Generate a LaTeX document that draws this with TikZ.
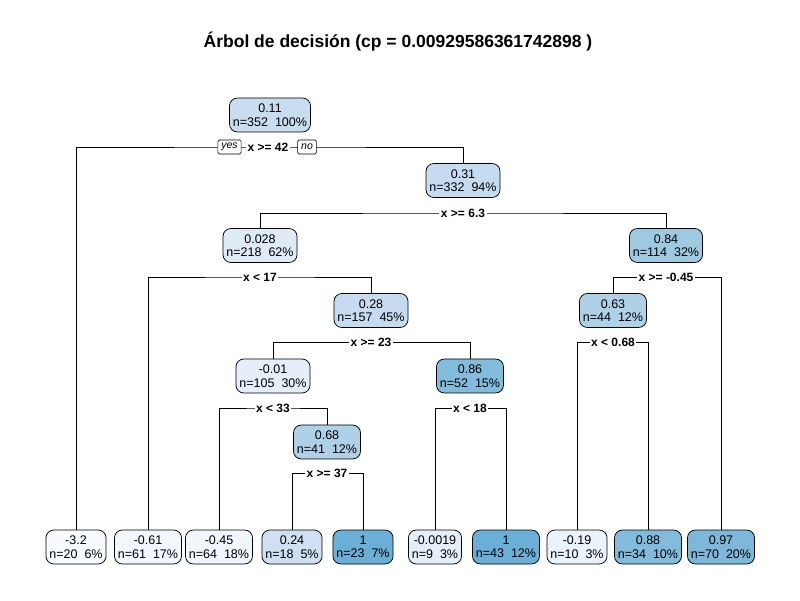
\documentclass[tikz,border=0pt]{standalone}
\usepackage{fontspec}
\setmainfont{Liberation Sans}
\definecolor{cA}{HTML}{F7FBFF}
\definecolor{cB}{HTML}{F1F7FD}
\definecolor{cC}{HTML}{F0F6FC}
\definecolor{cD}{HTML}{EAF3FB}
\definecolor{cE}{HTML}{E6EFF9}
\definecolor{cF}{HTML}{E3EEF8}
\definecolor{cG}{HTML}{DEEBF7}
\definecolor{cH}{HTML}{CEE0F2}
\definecolor{cI}{HTML}{C9DDF0}
\definecolor{cJ}{HTML}{C6DBEF}
\definecolor{cK}{HTML}{AED1E7}
\definecolor{cL}{HTML}{9DCAE1}
\definecolor{cM}{HTML}{82BBDB}
\definecolor{cN}{HTML}{7DB8DA}
\definecolor{cO}{HTML}{6BAED6}
\begin{document}
\begin{tikzpicture}[x=1pt,y=1pt,
  tnode/.style={draw=black, line width=0.75pt, rounded corners=8pt, align=center,
    font=\fontsize{12.5}{13.5}\selectfont, inner xsep=3.5pt, inner ysep=3pt, minimum height=34pt},
  slabel/.style={fill=white, inner xsep=1.5pt, inner ysep=1pt, font=\bfseries\fontsize{12}{14}\selectfont},
  yn/.style={draw=black, fill=white, rounded corners=1.5pt, font=\itshape\fontsize{10.5}{12}\selectfont,
    inner xsep=3.5pt, inner ysep=1pt, minimum height=14pt, line width=0.6pt},
  branch/.style={line width=0.75pt}]
\useasboundingbox[fill=white] (0,0) rectangle (800,600);
\node[font=\bfseries\fontsize{17.5}{20}\selectfont] (title) at (398,558) {Árbol de decisión (cp = 0.00929586361742898 )};
% internal nodes
\node[tnode, fill=cI] (root) at (270,485) {0.11\\n=352~~100\%};
\node[tnode, fill=cJ] (n31) at (463,419.5) {0.31\\n=332~~94\%};
\node[tnode, fill=cG] (n028) at (260,354.5) {0.028\\n=218~~62\%};
\node[tnode, fill=cL] (n84) at (666,354.5) {0.84\\n=114~~32\%};
\node[tnode, fill=cJ] (n28) at (371,289.5) {0.28\\n=157~~45\%};
\node[tnode, fill=cK] (n63) at (613,289.5) {0.63\\n=44~~12\%};
\node[tnode, fill=cE] (n01) at (273,224) {-0.01\\n=105~~30\%};
\node[tnode, fill=cM] (n86) at (470,224) {0.86\\n=52~~15\%};
\node[tnode, fill=cK] (n68) at (327,158) {0.68\\n=41~~12\%};
% leaves
\node[tnode, fill=cA] (l1) at (76,53) {-3.2\\n=20~~6\%};
\node[tnode, fill=cB] (l2) at (148,53) {-0.61\\n=61~~17\%};
\node[tnode, fill=cC] (l3) at (219,53) {-0.45\\n=64~~18\%};
\node[tnode, fill=cH] (l4) at (292,53) {0.24\\n=18~~5\%};
\node[tnode, fill=cO] (l5) at (363,53) {1\\n=23~~7\%};
\node[tnode, fill=cF] (l6) at (435,53) {-0.0019\\n=9~~3\%};
\node[tnode, fill=cO] (l7) at (506,53) {1\\n=43~~12\%};
\node[tnode, fill=cD] (l8) at (577,53) {-0.19\\n=10~~3\%};
\node[tnode, fill=cM] (l9) at (648,53) {0.88\\n=34~~10\%};
\node[tnode, fill=cN] (l10) at (721,53) {0.97\\n=70~~20\%};
% split points
\coordinate (c1) at (270,453);
\coordinate (c2) at (463,387);
\coordinate (c3) at (260,323);
\coordinate (c4) at (371,257.5);
\coordinate (c5) at (666,323);
\coordinate (c6) at (613,258);
\coordinate (c7) at (273,192);
\coordinate (c8) at (470,192);
\coordinate (c9) at (327,127);
% branches
\draw[branch] (l1.north) |- (c1) -| (n31.north);
\draw[branch] (n028.north) |- (c2) -| (n84.north);
\draw[branch] (l2.north) |- (c3) -| (n28.north);
\draw[branch] (n01.north) |- (c4) -| (n86.north);
\draw[branch] (n63.north) |- (c5) -| (l10.north);
\draw[branch] (l8.north) |- (c6) -| (l9.north);
\draw[branch] (l3.north) |- (c7) -| (n68.north);
\draw[branch] (l6.north) |- (c8) -| (l7.north);
\draw[branch] (l4.north) |- (c9) -| (l5.north);
% split labels
\node[slabel] (s1) at (268,453) {x >= 42};
\node[yn] (yes) at (229.5,453) {yes};
\node[yn] (no) at (307,453) {no};
\node[slabel] (s2) at (c2) {x >= 6.3};
\node[slabel] (s3) at (c3) {x < 17};
\node[slabel] (s4) at (c4) {x >= 23};
\node[slabel] (s5) at (c5) {x >= -0.45};
\node[slabel] (s6) at (c6) {x < 0.68};
\node[slabel] (s7) at (c7) {x < 33};
\node[slabel] (s8) at (c8) {x < 18};
\node[slabel] (s9) at (c9) {x >= 37};
\end{tikzpicture}
\end{document}
